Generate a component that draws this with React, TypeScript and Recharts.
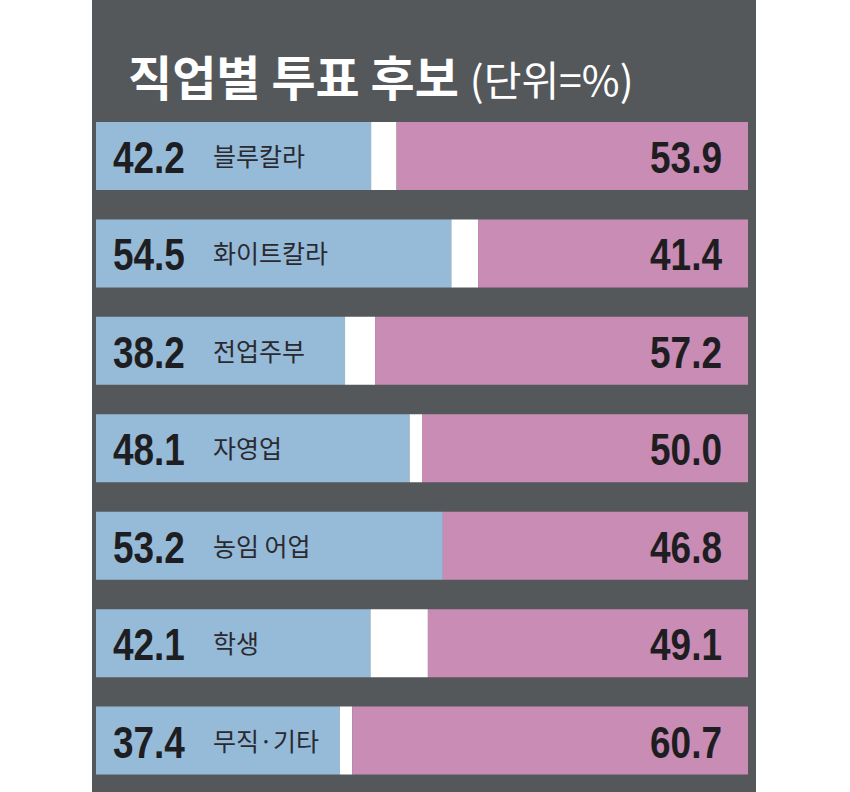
import React from 'react';
import { BarChart, Bar, XAxis, YAxis, LabelList } from 'recharts';

const categories = ['블루칼라', '화이트칼라', '전업주부', '자영업', '농임 어업', '학생', '무직·기타'];
const blueValues = [42.2, 54.5, 38.2, 48.1, 53.2, 42.1, 37.4];
const pinkValues = [53.9, 41.4, 57.2, 50.0, 46.8, 49.1, 60.7];

const chartData = categories.map((name, i) => ({
  name,
  blue: blueValues[i],
  gap: Math.max(0, 100 - blueValues[i] - pinkValues[i]),
  pink: pinkValues[i],
}));

const NUM_FONT = '"Liberation Sans", Arial, sans-serif';
const KR_FONT = '"Noto Sans CJK KR", "Noto Sans", sans-serif';

// condensed-looking numbers: squeeze horizontally
const Num = ({ x, y, anchor, children }: any) => (
  <text
    transform={`translate(${x} ${y}) scale(0.84 1)`}
    textAnchor={anchor}
    fill="#1e1e22"
    fontFamily={NUM_FONT}
    fontSize={44}
    fontWeight="bold"
  >
    {children}
  </text>
);

// value + category name at the left of the blue bar
const BlueLabel = (props: any) => {
  const { x, y, height, index } = props;
  const cy = y + height / 2;
  return (
    <g>
      <Num x={x + 17} y={cy + 17} anchor="start">
        {blueValues[index].toFixed(1)}
      </Num>
      <text x={x + 117} y={cy + 10} fill="#2a2a30" fontFamily={KR_FONT} fontSize={25}>
        {categories[index]}
      </text>
    </g>
  );
};

const PinkLabel = (props: any) => {
  const { x, y, width, height, index } = props;
  const cy = y + height / 2;
  return (
    <Num x={x + width - 26} y={cy + 17} anchor="end">
      {pinkValues[index].toFixed(1)}
    </Num>
  );
};

export default function App() {
  return (
    <div style={{ position: 'absolute', left: 0, top: 0, width: 850, height: 792, background: '#ffffff' }}>
      <div style={{ position: 'absolute', left: 92, top: 0, width: 664, height: 792, background: '#55585b' }} />
      <div
        style={{
          position: 'absolute',
          left: 128,
          top: 51,
          color: '#ffffff',
          fontFamily: KR_FONT,
          whiteSpace: 'nowrap',
          lineHeight: 1,
        }}
      >
        <span style={{ fontSize: 48, fontWeight: 700 }}>직업별 투표 후보 </span>
        <span style={{ fontSize: 41, fontWeight: 400 }}>(단위=%)</span>
      </div>
      <div style={{ position: 'absolute', left: 0, top: 0 }}>
        <BarChart
          width={850}
          height={792}
          data={chartData}
          layout="vertical"
          margin={{ top: 107, right: 102, bottom: 3, left: 96 }}
          barSize={68}
        >
          <XAxis type="number" domain={[0, 100]} hide />
          <YAxis type="category" dataKey="name" hide width={0} />
          <Bar dataKey="blue" stackId="a" fill="#96bbd9" isAnimationActive={false}>
            <LabelList dataKey="blue" content={BlueLabel} />
          </Bar>
          <Bar dataKey="gap" stackId="a" fill="#ffffff" isAnimationActive={false} />
          <Bar dataKey="pink" stackId="a" fill="#c98cb4" isAnimationActive={false}>
            <LabelList dataKey="pink" content={PinkLabel} />
          </Bar>
        </BarChart>
      </div>
    </div>
  );
}
